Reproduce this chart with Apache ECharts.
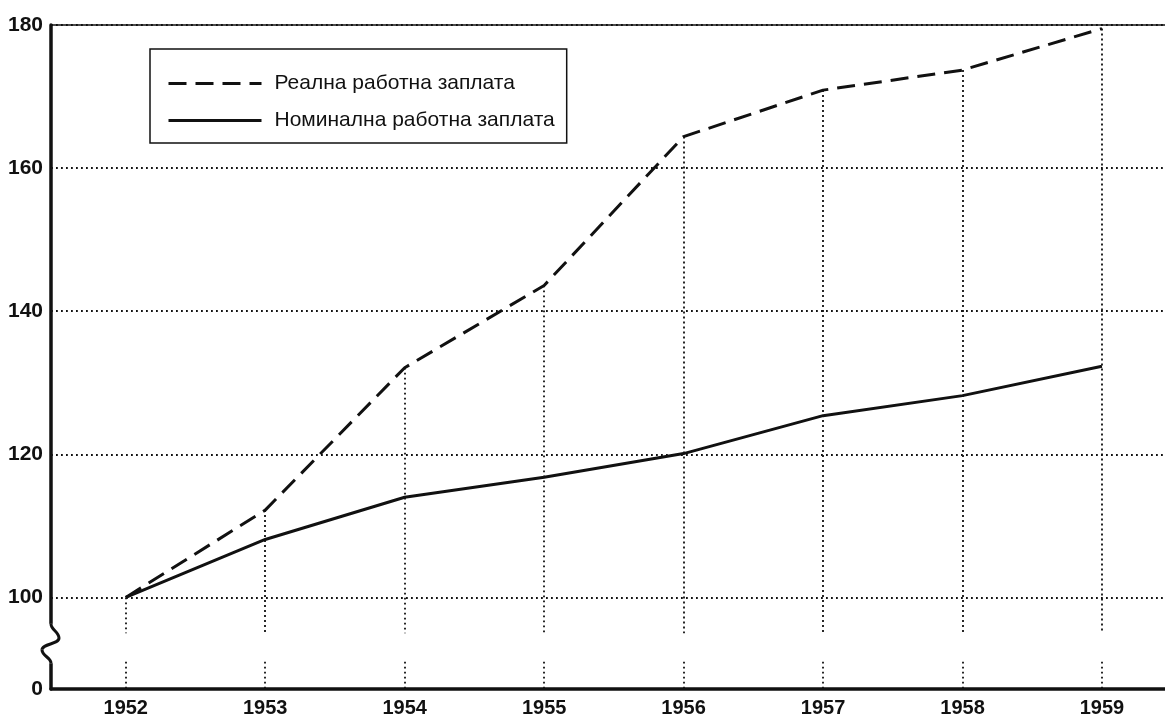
<!DOCTYPE html>
<html>
<head>
<meta charset="utf-8">
<script src="https://cdn.jsdelivr.net/npm/echarts@6/dist/echarts.min.js"></script>
<style>html,body{margin:0;padding:0;background:#fff}#c{width:1165px;height:720px}</style>
</head>
<body>
<div id="c"></div>
<script>
var years = [1952, 1953, 1954, 1955, 1956, 1957, 1958, 1959];
var realWage = [100, 112.2, 132.1, 143.6, 164.4, 170.9, 173.7, 179.5];
var nominalWage = [100, 108.1, 114.0, 116.8, 120.1, 125.4, 128.2, 132.3];
var yTickValues = [100, 120, 140, 160, 180];
var yTickLabels = ['0', '100', '120', '140', '160', '180'];
var seriesNames = ['Реална работна заплата', 'Номинална работна заплата'];

// broken axis: bottom of the plot stands for 0
var yBottom = 87.2, yTop = 180;
var breakLow = 91, breakHigh = 95;
var FONT = "'Liberation Sans', Arial, sans-serif";
var INK = '#111';

var vLines = [];
years.forEach(function (yr, i) {
  vLines.push([{ coord: [yr, realWage[i]] }, { coord: [yr, breakHigh] }]);
  vLines.push([{ coord: [yr, breakLow] }, { coord: [yr, yBottom] }]);
});

var chart = echarts.init(document.getElementById('c'));
chart.setOption({
  backgroundColor: '#fff',
  animation: false,
  grid: { left: 51, right: 0, top: 25, bottom: 31 },
  legend: {
    left: 150, top: 49, orient: 'vertical',
    data: seriesNames,
    borderColor: INK, borderWidth: 1.5,
    padding: [24, 12, 12, 17],
    itemWidth: 93, itemHeight: 20, itemGap: 16,
    itemStyle: { opacity: 0, color: 'rgba(0,0,0,0)', borderWidth: 0 },
    lineStyle: { width: 3 },
    textStyle: { fontFamily: FONT, fontSize: 21, color: INK, padding: [0, 0, 4, 8] }
  },
  xAxis: [{
    type: 'value', min: 1951.464, max: 1959.452,
    axisLine: { show: true, lineStyle: { color: INK, width: 3.5 } },
    axisTick: { show: false, customValues: years },
    axisLabel: { customValues: years, formatter: function (v) { return String(v); }, margin: 9,
      fontFamily: FONT, fontSize: 20, fontWeight: 'bold', color: INK },
    splitLine: { show: false }
  }, {
    type: 'value', position: 'top', min: 1951.464, max: 1959.452,
    axisLine: { show: true, lineStyle: { color: INK, width: 1.5 } },
    axisTick: { show: false }, axisLabel: { show: false }, splitLine: { show: false }
  }],
  yAxis: {
    type: 'value', min: yBottom, max: yTop,
    axisLine: { show: true, lineStyle: { color: INK, width: 3.5 } },
    axisTick: { show: false, customValues: yTickValues },
    axisLabel: {
      customValues: [yBottom].concat(yTickValues),
      formatter: function (v) {
        var idx = v < 100 ? 0 : yTickValues.indexOf(v) + 1;
        return yTickLabels[idx];
      },
      margin: 8, fontFamily: FONT, fontSize: 21, fontWeight: 'bold', color: INK
    },
    splitLine: { show: true, lineStyle: { color: INK, width: 1.8, type: [1.8, 3.2] } }
  },
  series: [{
    name: seriesNames[0], type: 'line', symbol: 'none',
    data: years.map(function (y, i) { return [y, realWage[i]]; }),
    lineStyle: { color: INK, width: 3, type: [18, 9] },
    itemStyle: { color: INK },
    markLine: {
      silent: true, symbol: ['none', 'none'], label: { show: false },
      lineStyle: { color: INK, width: 1.8, type: [1.8, 3.2] },
      emphasis: { disabled: true },
      data: vLines
    },
    z: 3
  }, {
    name: seriesNames[1], type: 'line', symbol: 'none',
    data: years.map(function (y, i) { return [y, nominalWage[i]]; }),
    lineStyle: { color: INK, width: 3 },
    itemStyle: { color: INK },
    z: 3
  }]
});

// axis break squiggle
var ax = chart.convertToPixel({ xAxisIndex: 0 }, 1951.464);
var yA = chart.convertToPixel({ yAxisIndex: 0 }, 96.3);
var yB = chart.convertToPixel({ yAxisIndex: 0 }, 90.8);
var h = yB - yA;
var sq = { fill: 'none', stroke: INK, lineWidth: 3 };
chart.setOption({
  graphic: [{
    type: 'rect', z: 100,
    shape: { x: ax - 4, y: yA, width: 8, height: h },
    style: { fill: '#fff' }
  }, {
    type: 'bezierCurve', z: 101,
    shape: { x1: ax, y1: yA, cpx1: ax, cpy1: yA + h * 0.15, cpx2: ax + 8, cpy2: yA + h * 0.2, x2: ax + 8, y2: yA + h * 0.36 },
    style: sq
  }, {
    type: 'bezierCurve', z: 101,
    shape: { x1: ax + 8, y1: yA + h * 0.36, cpx1: ax + 8, cpy1: yA + h * 0.52, cpx2: ax - 9, cpy2: yA + h * 0.5, x2: ax - 9, y2: yA + h * 0.66 },
    style: sq
  }, {
    type: 'bezierCurve', z: 101,
    shape: { x1: ax - 9, y1: yA + h * 0.66, cpx1: ax - 9, cpy1: yA + h * 0.82, cpx2: ax, cpy2: yA + h * 0.85, x2: ax, y2: yB },
    style: sq
  }]
});
</script>
</body>
</html>
